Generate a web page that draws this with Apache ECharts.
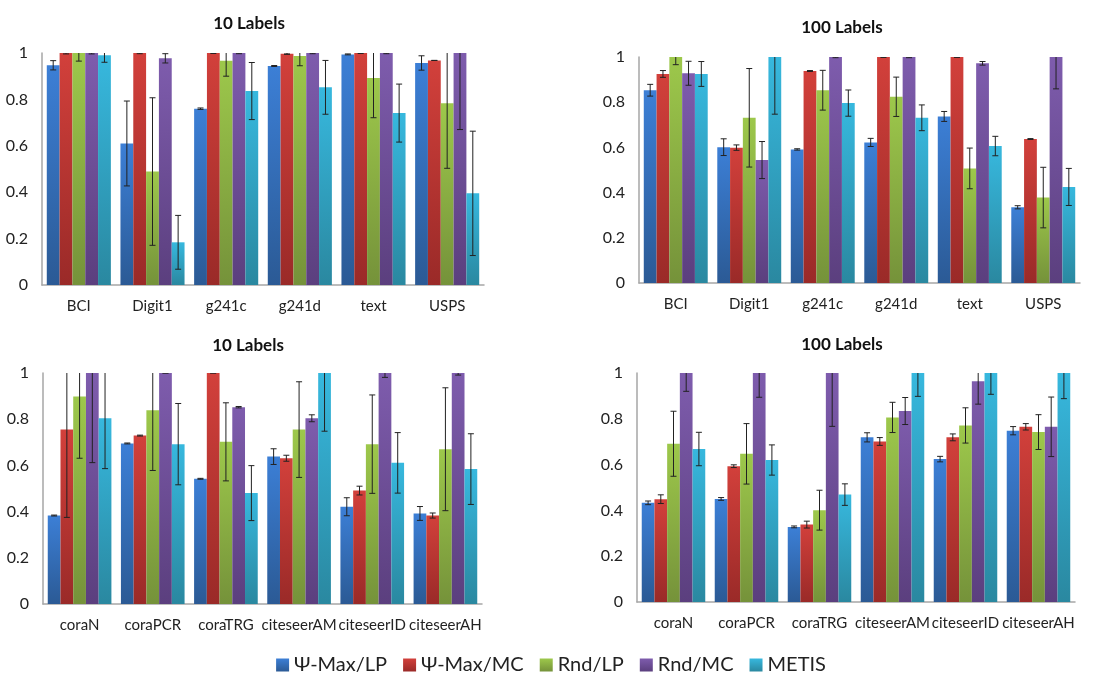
<!DOCTYPE html>
<html>
<head>
<meta charset="utf-8">
<script src="https://cdn.jsdelivr.net/npm/echarts@6/dist/echarts.min.js"></script>
<style>
  html, body { margin: 0; padding: 0; background: #fff; }
  #chart { width: 1102px; height: 678px; }
</style>
</head>
<body>
<div id="chart"></div>
<script>
const seriesNames = ['Ψ-Max/LP', 'Ψ-Max/MC', 'Rnd/LP', 'Rnd/MC', 'METIS']
const catsTop = ['BCI', 'Digit1', 'g241c', 'g241d', 'text', 'USPS']
const catsBottom = ['coraN', 'coraPCR', 'coraTRG', 'citeseerAM', 'citeseerID', 'citeseerAH']
const yTicks = [0, 0.2, 0.4, 0.6, 0.8, 1]

// one row per method, one column per dataset
const tl10Mean = [
  [0.947, 0.61, 0.76, 0.944, 0.994, 0.957],
  [1.0, 1.0, 1.0, 0.997, 1.0, 0.968],
  [1.0, 0.489, 0.967, 0.987, 0.892, 0.783],
  [1.0, 0.977, 1.0, 1.0, 1.0, 1.0],
  [0.99, 0.184, 0.836, 0.852, 0.741, 0.395]
]
const tl10Err = [
  [0.02, 0.183, 0.003, 0.002, 0.002, 0.031],
  [0.004, 0.003, 0.002, 0.003, 0.002, 0],
  [0.035, 0.318, 0.067, 0.042, 0.171, 0.28],
  [0.004, 0.02, 0.003, 0.003, 0.003, 0.33],
  [0.03, 0.116, 0.123, 0.116, 0.125, 0.268]
]
const tr100Mean = [
  [0.853, 0.601, 0.591, 0.622, 0.737, 0.335],
  [0.925, 0.599, 0.938, 1.0, 1.0, 0.637],
  [1.0, 0.731, 0.853, 0.824, 0.507, 0.378],
  [0.928, 0.544, 1.0, 1.0, 0.972, 1.0],
  [0.925, 1.0, 0.796, 0.731, 0.606, 0.425]
]
const tr100Err = [
  [0.026, 0.037, 0.003, 0.018, 0.022, 0.007],
  [0.015, 0.012, 0.002, 0.002, 0.002, 0.002],
  [0.034, 0.218, 0.088, 0.087, 0.09, 0.134],
  [0.053, 0.082, 0.003, 0.003, 0.008, 0.141],
  [0.055, 0.253, 0.058, 0.057, 0.043, 0.082]
]
const bl10Mean = [
  [0.383, 0.695, 0.542, 0.638, 0.421, 0.392],
  [0.755, 0.729, 1.0, 0.631, 0.491, 0.383],
  [0.898, 0.839, 0.702, 0.755, 0.692, 0.67],
  [1.0, 1.0, 0.852, 0.804, 1.0, 1.0],
  [0.804, 0.692, 0.48, 1.0, 0.611, 0.584]
]
const bl10Err = [
  [0.002, 0.002, 0.002, 0.034, 0.039, 0.03],
  [0.38, 0.002, 0, 0.013, 0.019, 0.011],
  [0.267, 0.261, 0.169, 0.207, 0.213, 0.266],
  [0.388, 0, 0.003, 0.015, 0.019, 0.009],
  [0.218, 0.176, 0.119, 0.252, 0.131, 0.153]
]
const br100Mean = [
  [0.433, 0.45, 0.328, 0.719, 0.624, 0.748],
  [0.449, 0.593, 0.338, 0.701, 0.719, 0.765],
  [0.691, 0.647, 0.401, 0.806, 0.771, 0.742],
  [1.0, 1.0, 1.0, 0.834, 0.964, 0.765],
  [0.668, 0.62, 0.469, 1.0, 1.0, 1.0]
]
const br100Err = [
  [0.008, 0.006, 0.004, 0.02, 0.012, 0.018],
  [0.019, 0.006, 0.015, 0.017, 0.015, 0.014],
  [0.142, 0.132, 0.087, 0.066, 0.077, 0.076],
  [0.08, 0.106, 0.233, 0.059, 0.1, 0.13],
  [0.073, 0.066, 0.047, 0.102, 0.093, 0.112]
]

const colorStops = [
  ['#3c7fd6', '#2b5a95'],
  ['#d2403b', '#9a2a28'],
  ['#9dc84b', '#75923a'],
  ['#7e5cad', '#5b3f7e'],
  ['#37b8de', '#2a88a0']
]
const barCatGap = 0.13
const font = 'Lato, "Open Sans", sans-serif'

const grad = i => new echarts.graphic.LinearGradient(0, 0, 0, 1, [
  { offset: 0, color: colorStops[i][0] },
  { offset: 1, color: colorStops[i][1] }
])

const panels = [
  { cats: catsTop, mean: tl10Mean, err: tl10Err, title: '10 Labels', grid: { left: 42, top: 53, width: 442, height: 232 }, tx: 249, ty: 24 },
  { cats: catsTop, mean: tr100Mean, err: tr100Err, title: '100 Labels', grid: { left: 639, top: 57, width: 441, height: 226 }, tx: 842, ty: 28 },
  { cats: catsBottom, mean: bl10Mean, err: bl10Err, title: '10 Labels', grid: { left: 43, top: 373, width: 439, height: 231 }, tx: 248, ty: 346 },
  { cats: catsBottom, mean: br100Mean, err: br100Err, title: '100 Labels', grid: { left: 637, top: 373, width: 438, height: 229 }, tx: 842, ty: 345 }
]

const errRenderer = idx => (params, api) => {
  const x = api.value(0), m = api.value(1), e = api.value(2)
  const band = api.size([1, 0])[0]
  const group = band * (1 - barCatGap)
  const bw = group / 5
  const cx = api.coord([x, m])[0] - group / 2 + (idx + 0.5) * bw
  const hi = api.coord([x, m + e])[1]
  const lo = api.coord([x, m - e])[1]
  const cap = 3
  const style = { stroke: '#222', lineWidth: 1 }
  return {
    type: 'group',
    children: [
      { type: 'line', shape: { x1: cx, y1: hi, x2: cx, y2: lo }, style },
      { type: 'line', shape: { x1: cx - cap, y1: hi, x2: cx + cap, y2: hi }, style },
      { type: 'line', shape: { x1: cx - cap, y1: lo, x2: cx + cap, y2: lo }, style }
    ]
  }
}

const grids = [], xAxes = [], yAxes = [], series = [], graphics = []
panels.forEach((p, gi) => {
  grids.push(p.grid)
  xAxes.push({
    type: 'category', gridIndex: gi, data: p.cats,
    axisLine: { lineStyle: { color: '#a6a6a6', width: 1.5 } },
    axisTick: { show: false },
    axisLabel: { color: '#222', fontSize: 15, fontFamily: font, margin: 14, interval: 0 }
  })
  yAxes.push({
    type: 'value', gridIndex: gi, min: 0, max: 1, interval: 0.2,
    axisLine: { show: true, lineStyle: { color: '#a6a6a6', width: 1.5 } },
    axisTick: { show: false },
    splitLine: { show: false },
    axisLabel: { color: '#222', fontSize: 16, fontFamily: font, margin: 14,
      formatter: v => yTicks.includes(+v.toFixed(1)) ? String(+v.toFixed(1)) : '' }
  })
  seriesNames.forEach((name, si) => {
    series.push({
      name, type: 'bar', xAxisIndex: gi, yAxisIndex: gi,
      data: p.mean[si],
      barGap: '0%', barCategoryGap: (barCatGap * 100) + '%',
      itemStyle: { color: grad(si) },
      emphasis: { disabled: true }
    })
  })
  seriesNames.forEach((name, si) => {
    series.push({
      type: 'custom', xAxisIndex: gi, yAxisIndex: gi, clip: true, z: 5,
      renderItem: errRenderer(si),
      encode: { x: 0, y: 1 },
      data: p.mean[si].map((m, ci) => [ci, m, p.err[si][ci]]),
      silent: true
    })
  })
  graphics.push({
    type: 'text', x: p.tx, y: p.ty,
    style: { text: p.title, font: 'bold 17px ' + font, fill: '#111', textAlign: 'center', textVerticalAlign: 'middle' }
  })
})

const chart = echarts.init(document.getElementById('chart'))
chart.setOption({
  animation: false,
  grid: grids,
  xAxis: xAxes,
  yAxis: yAxes,
  series,
  graphic: graphics,
  legend: {
    data: seriesNames,
    left: 'center', top: 650,
    icon: 'rect', itemWidth: 13, itemHeight: 13, itemGap: 16,
    textStyle: { fontSize: 20, color: '#222', fontFamily: font }
  }
})
</script>
</body>
</html>
